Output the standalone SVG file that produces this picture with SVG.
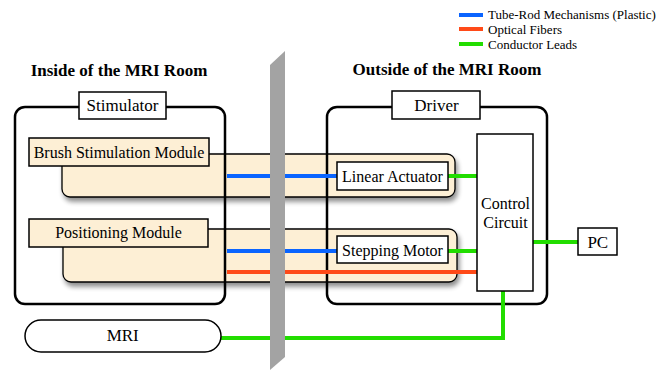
<svg xmlns="http://www.w3.org/2000/svg" width="667" height="371" viewBox="0 0 667 371" font-family="'Liberation Serif', 'Times New Roman', serif">
  <defs>
    <filter id="shadow" x="-10%" y="-20%" width="130%" height="160%">
      <feGaussianBlur in="SourceAlpha" stdDeviation="2.5"/>
      <feOffset dx="2" dy="4"/>
      <feComponentTransfer><feFuncA type="linear" slope="0.45"/></feComponentTransfer>
      <feMerge><feMergeNode/><feMergeNode in="SourceGraphic"/></feMerge>
    </filter>
  </defs>
  <style>
    text { font-family: "Liberation Serif", "Times New Roman", serif; fill: #000; }
    .title { font-size: 17px; font-weight: bold; text-anchor: middle; }
    .lbl { font-size: 16px; text-anchor: middle; }
    .big { font-size: 17px; text-anchor: middle; }
    .leg { font-size: 13px; }
    .frame { fill: none; stroke: #000; stroke-width: 2.5; }
    .tag { fill: #fff; stroke: #000; stroke-width: 1.5; }
    .body { fill: #fdefd5; stroke: #000; stroke-width: 1.3; }
    .mtag { fill: #fdefd5; stroke: #000; stroke-width: 1.5; }
    .box { fill: #fff; stroke: #000; stroke-width: 1.5; }
    .tube { stroke: #0a64ff; stroke-width: 4; fill: none; }
    .fiber { stroke: #ff4a18; stroke-width: 4; fill: none; }
    .lead { stroke: #22dd00; stroke-width: 4; fill: none; }
  </style>

  <!-- legend -->
  <g id="legend">
    <line class="tube" x1="459" y1="15" x2="483" y2="15"/>
    <line class="fiber" x1="459" y1="29" x2="483" y2="29"/>
    <line class="lead" x1="459" y1="44" x2="483" y2="44"/>
    <text class="leg" x="488" y="18.5">Tube-Rod Mechanisms (Plastic)</text>
    <text class="leg" x="488" y="33.5">Optical Fibers</text>
    <text class="leg" x="488" y="48.5">Conductor Leads</text>
  </g>

  <text class="title" x="119" y="76">Inside of the MRI Room</text>
  <text class="title" x="447" y="75">Outside of the MRI Room</text>

  <!-- brush stimulation module -->
  <g id="brush-module">
    <rect class="body" x="62" y="154" width="393" height="43" rx="8" filter="url(#shadow)"/>
    <rect class="mtag" x="29" y="138" width="180" height="28"/>
    <text class="lbl" x="119" y="157.5">Brush Stimulation Module</text>
  </g>

  <!-- positioning module -->
  <g id="positioning-module">
    <rect class="body" x="63" y="229" width="394" height="53" rx="8" filter="url(#shadow)"/>
    <rect class="mtag" x="29" y="219" width="179" height="28"/>
    <text class="lbl" x="118.5" y="237.5">Positioning Module</text>
  </g>

  <!-- stimulator enclosure -->
  <g id="stimulator">
    <rect class="frame" x="15" y="107" width="210" height="197" rx="10"/>
    <rect class="tag" x="79" y="92" width="87" height="27"/>
    <text class="big" x="122.5" y="111">Stimulator</text>
  </g>

  <!-- driver enclosure -->
  <g id="driver">
    <rect class="frame" x="327" y="107" width="220" height="197" rx="10"/>
    <rect class="tag" x="392" y="91" width="88" height="28"/>
    <text class="big" x="436.5" y="111">Driver</text>
  </g>

  <!-- connectors -->
  <g id="connectors">
    <line class="tube" x1="227" y1="176" x2="337" y2="176"/>
    <line class="lead" x1="448" y1="176" x2="477" y2="176"/>
    <line class="tube" x1="227" y1="251" x2="337" y2="251"/>
    <line class="lead" x1="448" y1="251" x2="477" y2="251"/>
    <line class="fiber" x1="227" y1="272" x2="477" y2="272"/>
    <line class="lead" x1="533" y1="242" x2="578" y2="242"/>
    <polyline class="lead" points="221,338 503,338 503,291"/>
  </g>

  <!-- shielding wall -->
  <polygon id="wall" points="270,65 285,51 285,357 270,370" fill="#a3a3a3"/>

  <g id="linear-actuator">
    <rect class="box" x="337" y="162" width="111" height="28"/>
    <text class="lbl" x="392.5" y="182">Linear Actuator</text>
  </g>

  <g id="stepping-motor">
    <rect class="box" x="337" y="236" width="111" height="27"/>
    <text class="lbl" x="392.5" y="255.5">Stepping Motor</text>
  </g>

  <g id="control-circuit">
    <rect class="box" x="477" y="134" width="56" height="157"/>
    <text class="lbl" x="505.5" y="208.5">Control</text>
    <text class="lbl" x="505.5" y="228">Circuit</text>
  </g>

  <g id="pc">
    <rect class="box" x="578" y="228" width="39" height="27"/>
    <text class="big" x="597.8" y="248">PC</text>
  </g>

  <g id="mri">
    <rect class="box" x="25" y="320" width="196" height="32" rx="16"/>
    <text class="big" x="122.7" y="341">MRI</text>
  </g>
</svg>
